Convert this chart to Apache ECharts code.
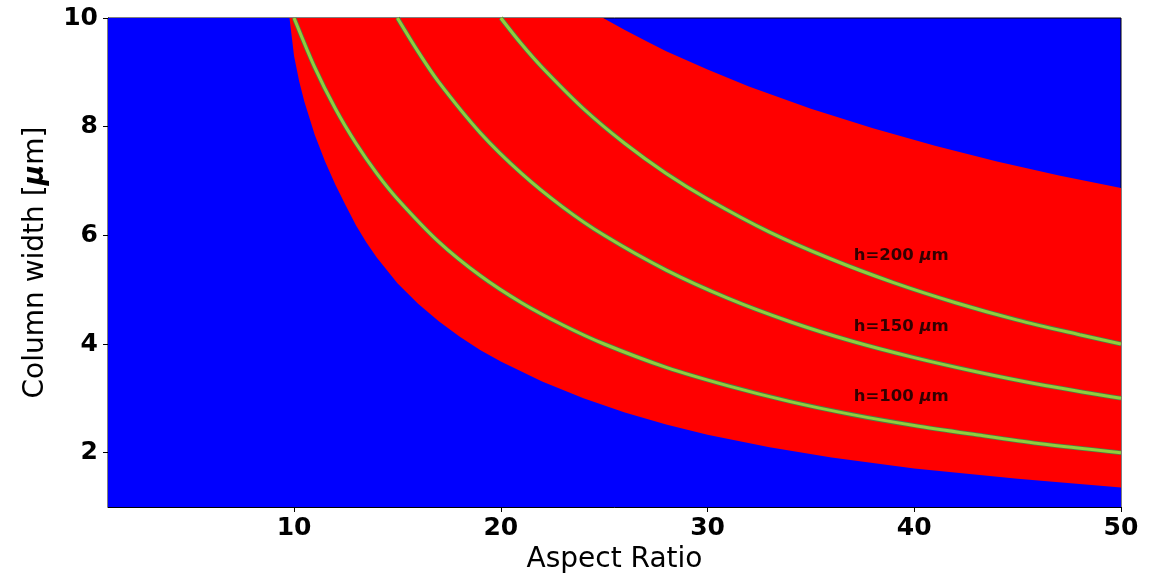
<!DOCTYPE html>
<html>
<head>
<meta charset="utf-8">
<script src="https://cdn.jsdelivr.net/npm/echarts@6/dist/echarts.min.js"></script>
<style>
  html, body { margin: 0; padding: 0; background: #fff; }
  #chart { width: 1163px; height: 577px; }
</style>
</head>
<body>
<div id="chart"></div>
<script>
// Tick labels
const xTicks = [10, 20, 30, 40, 50];
const yTicks = [2, 4, 6, 8, 10];

// Lower boundary of the red region
const lowerX = [1, 9.78, 10.0, 10.25, 10.5, 11.0, 11.5, 12.0, 12.5, 13.0, 13.5, 14.0, 15.0, 16.0, 17.0, 18.0, 19.0, 20.0, 22.0, 24.0, 26.0, 28.0, 30.0, 33.0, 36.0, 40.0, 45.0, 50.0];
const lowerY = [10, 10, 9.30, 8.83, 8.46, 7.85, 7.36, 6.93, 6.55, 6.18, 5.87, 5.59, 5.12, 4.74, 4.42, 4.14, 3.89, 3.68, 3.31, 3.00, 2.74, 2.52, 2.33, 2.10, 1.91, 1.71, 1.52, 1.36];

// Upper boundary of the red region
const upperX = [1, 24.95, 26, 27, 28, 30, 32, 35, 38, 41, 44, 47, 50];
const upperY = [10, 10, 9.78, 9.58, 9.39, 9.05, 8.74, 8.33, 7.97, 7.65, 7.36, 7.10, 6.87];

// h = 100 um curve
const h100X = [10, 11, 12, 13, 14, 15, 17, 19, 21, 23, 25, 28, 31, 34, 37, 40, 43, 46, 50];
const h100Y = [10, 9.09, 8.33, 7.69, 7.14, 6.67, 5.88, 5.26, 4.76, 4.35, 4.0, 3.57, 3.23, 2.94, 2.70, 2.50, 2.33, 2.17, 2.0];
// h = 150 um curve
const h150X = [15, 16, 17, 19, 21, 23, 25, 28, 31, 34, 37, 40, 43, 46, 50];
const h150Y = [10, 9.38, 8.82, 7.89, 7.14, 6.52, 6.0, 5.36, 4.84, 4.41, 4.05, 3.75, 3.49, 3.26, 3.0];
// h = 200 um curve
const h200X = [20, 21, 22, 24, 26, 28, 30, 33, 36, 39, 42, 45, 48, 50];
const h200Y = [10, 9.52, 9.09, 8.33, 7.69, 7.14, 6.67, 6.06, 5.56, 5.13, 4.76, 4.44, 4.17, 4.0];

// Curve labels
const labelTexts = ['200', '150', '100'];
const labelX = [37.07, 37.07, 37.07];
const labelY = [5.62, 4.32, 3.03];

const pairs = (xs, ys) => xs.map((x, i) => [x, ys[i]]);

const FONT = 'DejaVu Sans';
const chart = echarts.init(document.getElementById('chart'), null, { renderer: 'canvas' });

function curve(xs, ys) {
  return [
    {
      type: 'line', data: pairs(xs, ys), showSymbol: false, symbol: 'none', smooth: 0.3,
      lineStyle: { color: '#4e7f45', width: 4.6 }, z: 5, silent: true
    },
    {
      type: 'line', data: pairs(xs, ys), showSymbol: false, symbol: 'none', smooth: 0.3,
      lineStyle: { color: '#92cd3c', width: 3 }, z: 6, silent: true
    }
  ];
}

const option = {
  animation: false,
  grid: {
    left: 108, right: 42, top: 18, bottom: 70,
    show: true, backgroundColor: '#0000ff', borderColor: '#000', borderWidth: 1,
    outerBoundsMode: 'none'
  },
  xAxis: {
    type: 'value', min: 1, max: 50,
    name: 'Aspect Ratio', nameLocation: 'middle', nameGap: 38,
    nameTextStyle: { fontFamily: FONT, fontSize: 28, color: '#000' },
    axisLine: { show: true, onZero: false, lineStyle: { color: '#000', width: 1 } },
    axisTick: { show: true, inside: false, length: 5, lineStyle: { color: '#000' }, customValues: xTicks },
    axisLabel: { fontFamily: FONT, fontSize: 25, fontWeight: 'bold', color: '#000', margin: 9, customValues: xTicks },
    splitLine: { show: false }
  },
  yAxis: {
    type: 'value', min: 1, max: 10,
    name: '{n|Column width [}{m|μ}{n|m]}', nameLocation: 'middle', nameGap: 58, nameRotate: 90,
    nameTextStyle: {
      fontFamily: FONT, fontSize: 28, color: '#000',
      rich: {
        n: { fontFamily: FONT, fontSize: 28, color: '#000' },
        m: { fontFamily: FONT, fontSize: 28, color: '#000', fontStyle: 'italic', fontWeight: 'bold' }
      }
    },
    axisLine: { show: true, onZero: false, lineStyle: { color: '#000', width: 1 } },
    axisTick: { show: true, inside: false, length: 5, lineStyle: { color: '#000' }, customValues: yTicks },
    axisLabel: { fontFamily: FONT, fontSize: 25, fontWeight: 'bold', color: '#000', margin: 10, customValues: yTicks },
    splitLine: { show: false }
  },
  series: [
    {
      type: 'line', data: pairs(upperX, upperY), showSymbol: false, symbol: 'none', smooth: false,
      lineStyle: { width: 0, color: '#ff0000' },
      areaStyle: { color: '#ff0000', opacity: 1, origin: 'start' }, z: 2, silent: true
    },
    {
      type: 'line', data: pairs(lowerX, lowerY), showSymbol: false, symbol: 'none', smooth: false,
      lineStyle: { width: 0, color: '#0000ff' },
      areaStyle: { color: '#0000ff', opacity: 1, origin: 'start' }, z: 3, silent: true
    },
    ...curve(h100X, h100Y),
    ...curve(h150X, h150Y),
    ...curve(h200X, h200Y),
    {
      type: 'scatter', symbolSize: 0, z: 10, silent: true,
      data: labelTexts.map((t, i) => ({ value: [labelX[i], labelY[i]], name: t })),
      label: {
        show: true, position: 'right', distance: 0,
        formatter: p => '{b|h=' + p.name + ' }{i|μ}{b|m}',
        rich: {
          b: { fontFamily: FONT, fontSize: 16.5, fontWeight: 'bold', color: '#000' },
          i: { fontFamily: FONT, fontSize: 16.5, fontWeight: 'bold', fontStyle: 'italic', color: '#000' }
        }
      }
    }
  ]
};
chart.setOption(option);
</script>
</body>
</html>
